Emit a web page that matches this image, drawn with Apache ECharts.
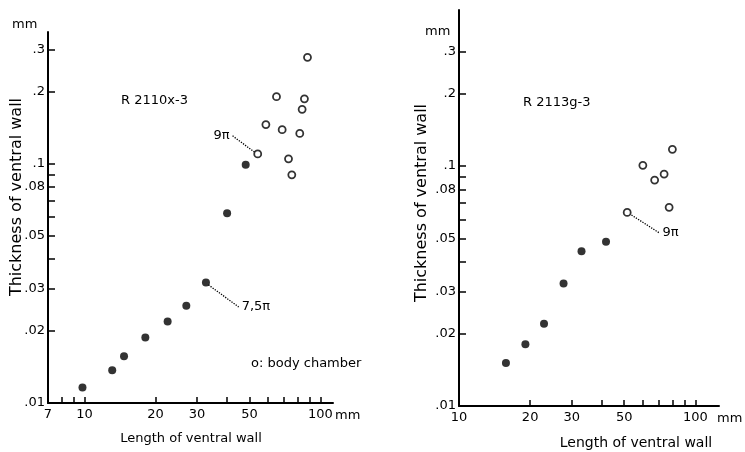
<!DOCTYPE html>
<html>
<head>
<meta charset="utf-8">
<title>Thickness of ventral wall</title>
<script src="https://cdn.jsdelivr.net/npm/echarts@6/dist/echarts.min.js"></script>
<style>
  html, body { margin: 0; padding: 0; background: #fff; }
  #chart { width: 745px; height: 452px; }
</style>
</head>
<body>
<div id="chart"></div>
<script>
// R 2110x-3 (left panel): septate part (filled) and body chamber (open)
var leftSeptX = [9.8, 13.1, 14.7, 18.1, 22.5, 27.0, 32.7, 40.2, 48.2];
var leftSeptY = [0.0116, 0.0137, 0.0157, 0.0188, 0.0219, 0.0255, 0.0319, 0.0622, 0.0991];
var leftBodyX = [54.2, 58.7, 65.1, 68.8, 73.2, 75.6, 81.7, 83.6, 85.5, 88.1];
var leftBodyY = [0.110, 0.146, 0.191, 0.139, 0.105, 0.090, 0.134, 0.169, 0.187, 0.279];

// R 2113g-3 (right panel)
var rightSeptX = [15.8, 19.1, 22.9, 27.7, 33.0, 41.9];
var rightSeptY = [0.0151, 0.0181, 0.0220, 0.0324, 0.0441, 0.0484];
var rightBodyX = [51.5, 60.0, 67.3, 73.8, 77.5, 80.0];
var rightBodyY = [0.0641, 0.1007, 0.0874, 0.0926, 0.0673, 0.1174];

// axis ticks / labels
var yTickValues = [0.02, 0.03, 0.04, 0.05, 0.06, 0.07, 0.08, 0.09, 0.1, 0.2, 0.3];
var yLabelValues = [0.01, 0.02, 0.03, 0.05, 0.08, 0.1, 0.2, 0.3];
var yLabelText = ['.01', '.02', '.03', '.05', '.08', '.1', '.2', '.3'];
var leftXTicks = [8, 9, 10, 20, 30, 40, 50, 60, 70, 80, 90, 100];
var leftXLabels = [7, 10, 20, 30, 50, 100];
var rightXTicks = [20, 30, 40, 50, 60, 70, 80, 90, 100];
var rightXLabels = [10, 20, 30, 50, 100];

// whorl notes (anchor points in data units)
var leftNote9 = [[42.4, 0.131], [52.5, 0.112]];
var leftNote75 = [[33.5, 0.0312], [45.0, 0.0252]];
var rightNote9 = [[53.7, 0.0625], [70.5, 0.0526]];

var INK = '#000';
var FONT = 'DejaVu Sans';

function pairs(xs, ys) {
  var out = [];
  for (var i = 0; i < xs.length; i++) {
    out.push([xs[i], ys[i]]);
  }
  return out;
}

function yLabel(value) {
  for (var i = 0; i < yLabelValues.length; i++) {
    if (Math.abs(yLabelValues[i] - value) < 1e-6) return yLabelText[i];
  }
  return '';
}

function makeXAxis(gridIndex, min, max, ticks, labels) {
  return {
    type: 'log', logBase: 10, gridIndex: gridIndex, min: min, max: max,
    axisLine: {show: true, onZero: false, lineStyle: {color: INK, width: 2}},
    axisTick: {show: true, inside: true, length: 6, customValues: ticks, lineStyle: {color: INK, width: 1.5}},
    axisLabel: {customValues: labels, color: INK, fontFamily: FONT, fontSize: 13, margin: 5},
    splitLine: {show: false}
  };
}

function makeYAxis(gridIndex, max) {
  return {
    type: 'log', logBase: 10, gridIndex: gridIndex, min: 0.01, max: max,
    axisLine: {show: true, onZero: false, lineStyle: {color: INK, width: 2}},
    axisTick: {show: true, inside: true, length: 7, customValues: yTickValues, lineStyle: {color: INK, width: 1.5}},
    axisLabel: {customValues: yLabelValues, formatter: yLabel, color: INK, fontFamily: FONT, fontSize: 13, margin: 3},
    splitLine: {show: false}
  };
}

function septSeries(idx, xs, ys) {
  return {
    type: 'scatter', xAxisIndex: idx, yAxisIndex: idx,
    symbol: 'circle', symbolSize: 8,
    itemStyle: {color: INK},
    data: pairs(xs, ys)
  };
}

function bodySeries(idx, xs, ys) {
  return {
    type: 'scatter', xAxisIndex: idx, yAxisIndex: idx,
    symbol: 'circle', symbolSize: 7,
    itemStyle: {color: '#fff', borderColor: INK, borderWidth: 1.8},
    data: pairs(xs, ys)
  };
}

//dotted leader with whorl label on one end
function noteSeries(idx, pts, text, atEnd) {
  var lbl = {show: true, formatter: text, position: atEnd ? 'right' : 'left', distance: 3,
    color: INK, fontFamily: FONT, fontSize: 13};
  var data = [
    atEnd ? pts[0] : {value: pts[0], label: lbl},
    atEnd ? {value: pts[1], label: lbl} : pts[1]
  ];
  return {
    type: 'line', xAxisIndex: idx, yAxisIndex: idx,
    symbol: 'circle', symbolSize: 0, showSymbol: true,
    lineStyle: {color: INK, width: 1.3, type: 'dotted'},
    itemStyle: {color: INK},
    silent: true, z: 1,
    data: data
  };
}

function txt(x, y, text, size, align, rotate) {
  return {
    type: 'text', x: x, y: y, rotation: rotate ? Math.PI / 2 : 0,
    style: {text: text, fill: INK, font: size + 'px "' + FONT + '"',
      textAlign: align || 'left', textVerticalAlign: 'middle'}
  };
}

var chart = echarts.init(document.getElementById('chart'));
chart.setOption({
  animation: false,
  backgroundColor: '#fff',
  grid: [
    {left: 48, top: 32, width: 285, height: 371},
    {left: 459, top: 10, width: 260, height: 396}
  ],
  xAxis: [
    makeXAxis(0, 7, 113, leftXTicks, leftXLabels),
    makeXAxis(1, 10, 126, rightXTicks, rightXLabels)
  ],
  yAxis: [
    makeYAxis(0, 0.356),
    makeYAxis(1, 0.447)
  ],
  series: [
    noteSeries(0, leftNote9, '9π', false),
    noteSeries(0, leftNote75, '7,5π', true),
    noteSeries(1, rightNote9, '9π', true),
    septSeries(0, leftSeptX, leftSeptY),
    bodySeries(0, leftBodyX, leftBodyY),
    septSeries(1, rightSeptX, rightSeptY),
    bodySeries(1, rightBodyX, rightBodyY)
  ],
  graphic: [
    txt(12, 25, 'mm', 13),
    txt(425, 32, 'mm', 13),
    txt(335, 416, 'mm', 13),
    txt(717, 419, 'mm', 13),
    txt(121, 101, 'R 2110x-3', 13),
    txt(523, 103, 'R 2113g-3', 13),
    txt(251, 364, 'o: body chamber', 13),
    txt(191, 439, 'Length of ventral wall', 13, 'center'),
    txt(636, 443, 'Length of ventral wall', 14, 'center'),
    txt(17, 197, 'Thickness of ventral wall', 16, 'center', true),
    txt(422, 203, 'Thickness of ventral wall', 16, 'center', true)
  ]
});
</script>
</body>
</html>
